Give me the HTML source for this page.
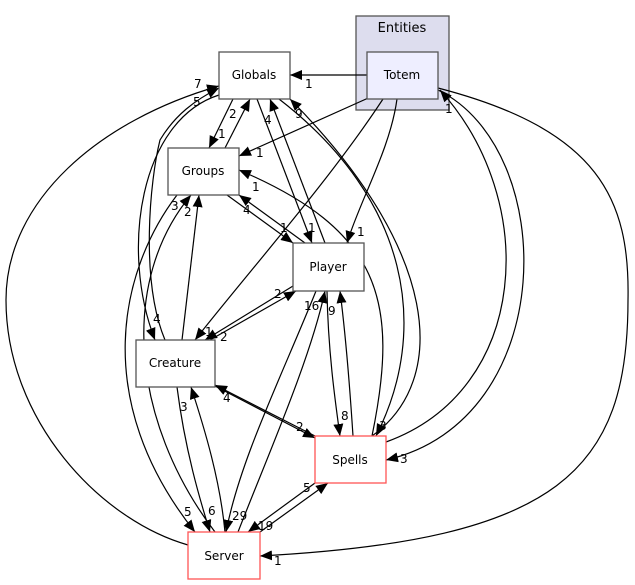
<!DOCTYPE html>
<html><head><meta charset="utf-8"><style>
html,body{margin:0;padding:0;background:#fff;}
svg{display:block;font-family:"DejaVu Sans","Liberation Sans",sans-serif;}
text{font-size:12px;fill:#000;}
.e{fill:none;stroke:#000;stroke-width:1.2;marker-end:url(#a);}
.l{font-size:12px;}
</style></head><body>
<svg width="635" height="585" viewBox="0 0 635 585">
<defs><marker id="a" markerWidth="12" markerHeight="10" refX="12" refY="5" orient="auto" markerUnits="userSpaceOnUse"><path d="M0,0 L12,5 L0,10z" fill="#000"/></marker></defs>
<rect x="356" y="16" width="93" height="94" fill="#ddddee" stroke="#555" stroke-width="1.3"/>
<text x="402" y="32" text-anchor="middle" style="font-size:13px">Entities</text>

<path class="e" d="M367,75 L290,75"/>
<path class="e" d="M375,95 L239,156"/>
<path class="e" d="M397,99 C390,150 360,200 347,243"/>
<path class="e" d="M383,99 C330,180 250,270 195,340"/>
<path class="e" d="M438,90 C560,150 560,420 386,460"/>
<path class="e" d="M386,442 C530,390 540,200 440,90"/>
<path class="e" d="M438,88 C600,130 630,200 628,300 C628,470 560,540 260,556"/>
<path class="e" d="M233,99 L209,148"/>
<path class="e" d="M225,148 L250,99"/>
<path class="e" d="M257,99 L312,243"/>
<path class="e" d="M325,243 L270,99"/>
<path class="e" d="M372,436 C450,380 440,250 290,99"/>
<path class="e" d="M279,99 C410,200 430,330 376,436"/>
<path class="e" d="M165,340 C140,280 150,180 160,140 C175,115 195,100 219,88"/>
<path class="e" d="M188,545 C100,520 6,420 6,300 C6,200 100,120 219,86"/>
<path class="e" d="M219,95 C140,120 120,250 155,340"/>
<path class="e" d="M227,195 L293,243"/>
<path class="e" d="M305,243 L239,195"/>
<path class="e" d="M372,436 C400,300 380,230 239,170"/>
<path class="e" d="M182,340 L199,195"/>
<path class="e" d="M177,195 C120,270 90,400 195,532"/>
<path class="e" d="M215,532 C130,420 120,280 191,195"/>
<path class="e" d="M210,340 L296,291"/>
<path class="e" d="M293,286 L205,340"/>
<path class="e" d="M213,385 L315,438"/>
<path class="e" d="M315,436 L215,385"/>
<path class="e" d="M177,387 C185,450 200,500 210,532"/>
<path class="e" d="M225,532 C220,480 205,430 191,387"/>
<path class="e" d="M316,291 C280,380 240,460 226,532"/>
<path class="e" d="M238,532 C270,450 310,360 325,291"/>
<path class="e" d="M327,291 C328,350 335,400 340,436"/>
<path class="e" d="M353,436 C350,390 345,330 340,291"/>
<path class="e" d="M315,483 L248,532"/>
<path class="e" d="M260,532 L328,483"/>

<g stroke-width="1.3">
<rect x="367" y="52" width="71" height="47" fill="#eeeeff" stroke="#555"/>
<rect x="219" y="52" width="71" height="47" fill="#fff" stroke="#555"/>
<rect x="168" y="148" width="71" height="47" fill="#fff" stroke="#555"/>
<rect x="293" y="243" width="71" height="48" fill="#fff" stroke="#555"/>
<rect x="136" y="340" width="79" height="47" fill="#fff" stroke="#555"/>
<rect x="315" y="436" width="71" height="47" fill="#fff" stroke="#ff5555"/>
<rect x="188" y="532" width="72" height="47" fill="#fff" stroke="#ff5555"/>
</g>
<g text-anchor="middle">
<text x="402" y="79">Totem</text>
<text x="254" y="79">Globals</text>
<text x="203" y="175">Groups</text>
<text x="328" y="271">Player</text>
<text x="175" y="367">Creature</text>
<text x="350" y="464">Spells</text>
<text x="224" y="560">Server</text>
</g>
<g class="l">
<text x="305" y="88">1</text><text x="256" y="157">1</text><text x="357" y="236">1</text>
<text x="205" y="336">1</text><text x="400" y="463">3</text><text x="445" y="113">1</text>
<text x="274" y="565">1</text><text x="218" y="138">1</text><text x="229" y="118">2</text>
<text x="280" y="232">1</text><text x="264" y="124">4</text><text x="295" y="118">9</text>
<text x="379" y="430">3</text><text x="193" y="106">5</text><text x="194" y="88">7</text>
<text x="153" y="323">4</text><text x="243" y="214">4</text><text x="308" y="232">1</text>
<text x="252" y="191">1</text><text x="184" y="216">2</text><text x="171" y="210">3</text>
<text x="184" y="516">5</text><text x="274" y="298">2</text><text x="220" y="341">2</text>
<text x="296" y="431">2</text><text x="223" y="402">4</text><text x="208" y="515">6</text>
<text x="180" y="411">3</text><text x="232" y="520">29</text><text x="304" y="310">16</text>
<text x="341" y="420">8</text><text x="328" y="315">9</text><text x="258" y="530">19</text>
<text x="303" y="492">5</text>
</g>
</svg>
</body></html>
